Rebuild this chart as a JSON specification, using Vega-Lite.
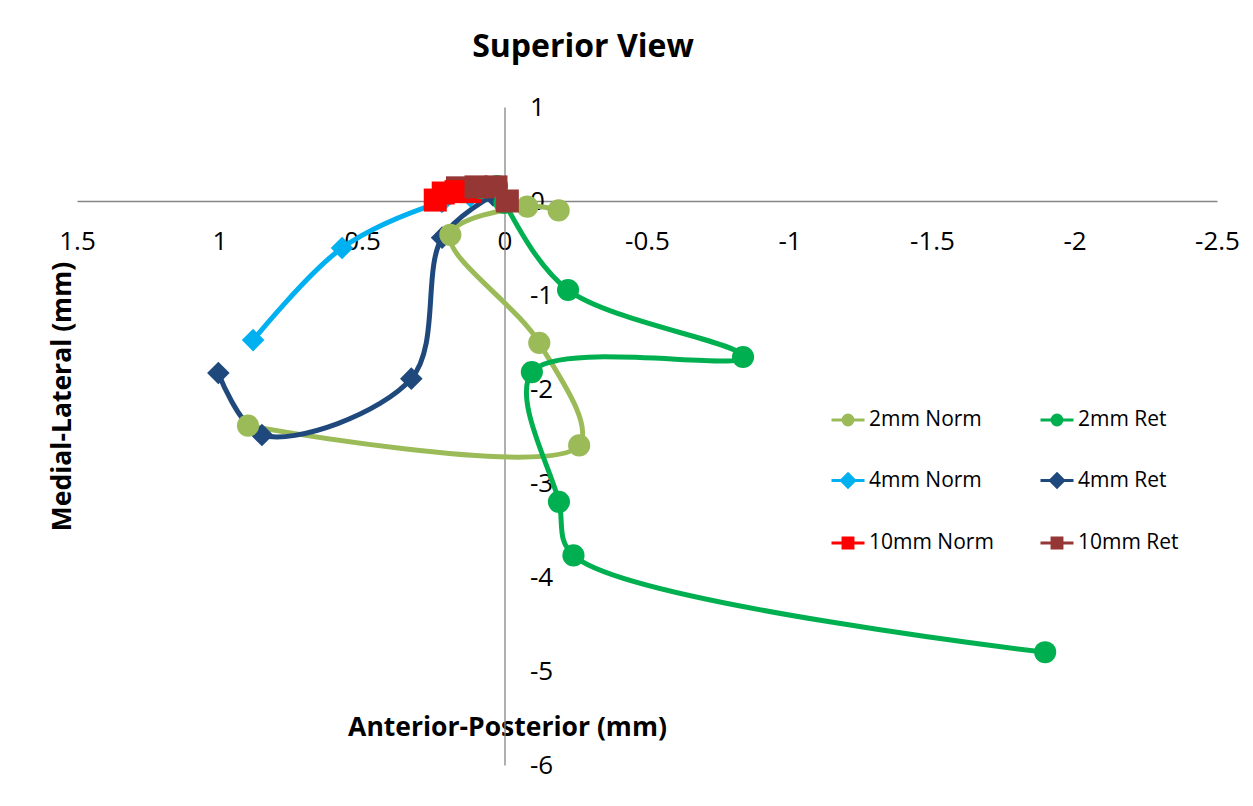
{
  "$schema": "https://vega.github.io/schema/vega-lite/v6.json",
  "width": 1140,
  "height": 658,
  "autosize": {"type": "none"},
  "padding": {"left": 77, "top": 107, "right": 36, "bottom": 41},
  "background": "white",
  "config": {
    "view": {"stroke": null},
    "font": "Open Sans"
  },
  "title": {
    "text": "Superior View",
    "fontSize": 32,
    "fontWeight": "bold",
    "font": "Open Sans",
    "color": "black",
    "anchor": "middle",
    "dx": -64,
    "offset": 30
  },
  "data": {
    "values": [
      {"s": "2mm Norm", "d": "2mm", "i": 1, "x": -0.19, "y": -0.1},
      {"s": "2mm Norm", "d": "2mm", "i": 2, "x": -0.08, "y": -0.06},
      {"s": "2mm Norm", "d": "2mm", "i": 3, "x": 0.19, "y": -0.36},
      {"s": "2mm Norm", "d": "2mm", "i": 4, "x": -0.122, "y": -1.51},
      {"s": "2mm Norm", "d": "2mm", "i": 5, "x": -0.262, "y": -2.6},
      {"s": "2mm Norm", "d": "2mm", "i": 6, "x": 0.9, "y": -2.39},
      {"s": "4mm Norm", "d": "4mm", "i": 1, "x": 0.12, "y": 0.05},
      {"s": "4mm Norm", "d": "4mm", "i": 2, "x": 0.22, "y": -0.01},
      {"s": "4mm Norm", "d": "4mm", "i": 3, "x": 0.57, "y": -0.5},
      {"s": "4mm Norm", "d": "4mm", "i": 4, "x": 0.882, "y": -1.48},
      {"s": "4mm Ret", "d": "4mm", "i": 1, "x": 0.04, "y": 0.06},
      {"s": "4mm Ret", "d": "4mm", "i": 2, "x": 0.219, "y": -0.39},
      {"s": "4mm Ret", "d": "4mm", "i": 3, "x": 0.327, "y": -1.89},
      {"s": "4mm Ret", "d": "4mm", "i": 4, "x": 0.851, "y": -2.49},
      {"s": "4mm Ret", "d": "4mm", "i": 5, "x": 1.004, "y": -1.83},
      {"s": "10mm Norm", "d": "10mm", "i": 1, "x": 0.12, "y": 0.1},
      {"s": "10mm Norm", "d": "10mm", "i": 2, "x": 0.17, "y": 0.1},
      {"s": "10mm Norm", "d": "10mm", "i": 3, "x": 0.215, "y": 0.085},
      {"s": "10mm Norm", "d": "10mm", "i": 4, "x": 0.243, "y": 0.01},
      {"s": "10mm Ret", "d": "10mm", "i": 1, "x": 0.165, "y": 0.14},
      {"s": "10mm Ret", "d": "10mm", "i": 2, "x": 0.1, "y": 0.15},
      {"s": "10mm Ret", "d": "10mm", "i": 3, "x": 0.03, "y": 0.15},
      {"s": "10mm Ret", "d": "10mm", "i": 4, "x": -0.01, "y": 0.0},
      {"s": "2mm Ret", "d": "2mm", "i": 1, "x": 0.083, "y": 0.14},
      {"s": "2mm Ret", "d": "2mm", "i": 2, "x": 0.026, "y": 0.16},
      {"s": "2mm Ret", "d": "2mm", "i": 3, "x": 0.0, "y": -0.02},
      {"s": "2mm Ret", "d": "2mm", "i": 4, "x": -0.223, "y": -0.947},
      {"s": "2mm Ret", "d": "2mm", "i": 5, "x": -0.837, "y": -1.66},
      {"s": "2mm Ret", "d": "2mm", "i": 6, "x": -0.096, "y": -1.82},
      {"s": "2mm Ret", "d": "2mm", "i": 7, "x": -0.191, "y": -3.2},
      {"s": "2mm Ret", "d": "2mm", "i": 8, "x": -0.242, "y": -3.77},
      {"s": "2mm Ret", "d": "2mm", "i": 9, "x": -1.897, "y": -4.8}
    ]
  },
  "encoding": {
    "x": {
      "field": "x",
      "type": "quantitative",
      "scale": {"domain": [-2.5, 1.5], "reverse": true, "nice": false, "zero": false},
      "axis": {
        "orient": "bottom",
        "offset": -564,
        "values": [1.5, 1, 0.5, 0, -0.5, -1, -1.5, -2, -2.5],
        "labelExpr": "datum.value + ''",
        "grid": false,
        "ticks": false,
        "domainColor": "#868686",
        "domainWidth": 1.3,
        "labelFontSize": 26,
        "labelColor": "black",
        "labelFont": "Open Sans",
        "labelPadding": 27,
        "labelFlush": false,
        "labelOverlap": false,
        "title": "Anterior-Posterior (mm)",
        "titleFontSize": 26.5,
        "titleFontWeight": "bold",
        "titleFont": "Open Sans",
        "titleColor": "black",
        "titleX": 430,
        "titleY": 526,
        "titleBaseline": "middle",
        "titleAlign": "center"
      }
    },
    "y": {
      "field": "y",
      "type": "quantitative",
      "scale": {"domain": [-6, 1], "nice": false, "zero": false},
      "axis": {
        "orient": "right",
        "offset": -712.5,
        "values": [1, 0, -1, -2, -3, -4, -5, -6],
        "labelExpr": "datum.value + ''",
        "grid": false,
        "ticks": false,
        "domainColor": "#868686",
        "domainWidth": 1.3,
        "labelFontSize": 26,
        "labelColor": "black",
        "labelFont": "Open Sans",
        "labelPadding": 25,
        "labelAlign": "left",
        "labelBaseline": "middle",
        "labelFlush": false,
        "labelOverlap": false,
        "title": "Medial-Lateral (mm)",
        "titleFontSize": 26.5,
        "titleFontWeight": "bold",
        "titleFont": "Open Sans",
        "titleColor": "black",
        "titleAngle": 270,
        "titleX": -442,
        "titleY": 289,
        "titleBaseline": "middle",
        "titleAlign": "center"
      }
    },
    "color": {
      "field": "s",
      "type": "nominal",
      "scale": {
        "domain": ["2mm Norm", "4mm Norm", "10mm Norm", "2mm Ret", "4mm Ret", "10mm Ret"],
        "range": ["#9BBB59", "#00B0F0", "#FF0000", "#00B050", "#1F497D", "#953735"]
      },
      "legend": {
        "title": null,
        "orient": "none",
        "legendX": 753,
        "legendY": 295,
        "columns": 2,
        "columnPadding": 40,
        "rowPadding": 31.5,
        "padding": 0,
        "symbolSize": 1089,
        "labelFontSize": 21,
        "labelFont": "Open Sans",
        "labelColor": "black",
        "labelOffset": 3,
        "labelLimit": 300,
        "encode": {
          "symbols": {
            "update": {
              "shape": {"signal": "indexof(datum.value,'2mm')==0 ? 'M-1,0H1M-0.3,0A0.3,0.3,0,1,1,0.3,0A0.3,0.3,0,1,1,-0.3,0Z' : indexof(datum.value,'4mm')==0 ? 'M-1,0H1M0,-0.4L0.4,0L0,0.4L-0.4,0Z' : 'M-1,0H1M-0.3,-0.3H0.3V0.3H-0.3Z'"},
              "fill": {"scale": "color", "field": "value"},
              "stroke": {"scale": "color", "field": "value"},
              "strokeWidth": {"value": 3},
              "opacity": {"value": 1},
              "fillOpacity": {"value": 1},
              "strokeOpacity": {"value": 1}
            }
          }
        }
      }
    }
  },
  "layer": [
    {
      "mark": {"type": "line", "strokeWidth": 5, "interpolate": "catmull-rom"},
      "encoding": {
        "order": {"field": "i", "type": "quantitative"}
      }
    },
    {
      "mark": {"type": "point", "filled": true, "opacity": 1},
      "encoding": {
        "shape": {
          "field": "d",
          "type": "nominal",
          "scale": {
            "domain": ["2mm", "4mm", "10mm"],
            "range": ["circle", "diamond", "square"]
          },
          "legend": null
        },
        "size": {
          "field": "d",
          "type": "nominal",
          "scale": {
            "domain": ["2mm", "4mm", "10mm"],
            "range": [490, 530, 400]
          },
          "legend": null
        },
        "order": {"field": "i", "type": "quantitative"}
      }
    }
  ]
}
